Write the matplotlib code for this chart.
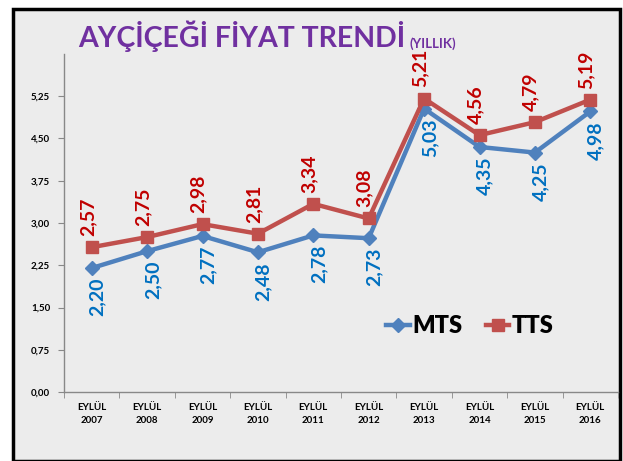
import matplotlib
matplotlib.use("Agg")
import matplotlib.pyplot as plt
from matplotlib.patches import Rectangle

categories = ["EYLÜL\n2007", "EYLÜL\n2008", "EYLÜL\n2009", "EYLÜL\n2010", "EYLÜL\n2011",
              "EYLÜL\n2012", "EYLÜL\n2013", "EYLÜL\n2014", "EYLÜL\n2015", "EYLÜL\n2016"]
mts = [2.20, 2.50, 2.77, 2.48, 2.78, 2.73, 5.03, 4.35, 4.25, 4.98]
tts = [2.57, 2.75, 2.98, 2.81, 3.34, 3.08, 5.21, 4.56, 4.79, 5.19]
yticks = [0.00, 0.75, 1.50, 2.25, 3.00, 3.75, 4.50, 5.25]

plt.rcParams['font.family'] = ['Lato', 'DejaVu Sans']

W, H = 623, 461
fig = plt.figure(figsize=(W / 100, H / 100), dpi=100)
fig.patch.set_facecolor('white')
bg = '#ececec'
fig.patches.append(Rectangle((13 / W, 0), 1 - 16 / W, 1 - 9 / H, transform=fig.transFigure,
                             facecolor=bg, edgecolor='black', linewidth=2.5, zorder=-10))

ax = fig.add_axes([64 / W, 1 - 392 / H, (618 - 64) / W, (392 - 54) / H])
ax.set_facecolor('none')
x = list(range(len(categories)))
ax.plot(x, mts, color='#4F81BD', linewidth=3.2, marker='D', markersize=7, label='MTS', zorder=3)
ax.plot(x, tts, color='#C0504D', linewidth=3.2, marker='s', markersize=9, label='TTS', zorder=3)

for i, v in enumerate(tts):
    ax.annotate(f"{v:.2f}".replace('.', ','), (i, v), xytext=(-3, 8), textcoords='offset points',
                rotation=90, ha='center', va='bottom', color='#C00000', fontsize=14,
                fontweight='bold', zorder=4)
for i, v in enumerate(mts):
    ax.annotate(f"{v:.2f}".replace('.', ','), (i, v), xytext=(4, -7), textcoords='offset points',
                rotation=90, ha='center', va='top', color='#0070C0', fontsize=14,
                fontweight='bold', zorder=4)

ax.set_xlim(-0.5, len(categories) - 0.5)
ax.set_ylim(0, 6.0)
ax.set_yticks(yticks)
ax.set_yticklabels([f"{t:.2f}".replace('.', ',') for t in yticks], fontsize=7, fontweight='bold')
ax.set_xticks(x)
ax.set_xticklabels(categories, fontsize=7, fontweight='bold', linespacing=1.5)
ax.set_xticks([i + 0.5 for i in range(-1, len(categories))], minor=True)
ax.tick_params(axis='x', which='major', length=0, pad=8)
ax.tick_params(axis='x', which='minor', length=4, color='#888888', direction='out')
ax.tick_params(axis='y', length=4, color='#888888', direction='out', pad=6)
for s in ['top', 'right']:
    ax.spines[s].set_visible(False)
for s in ['left', 'bottom']:
    ax.spines[s].set_color('#888888')
    ax.spines[s].set_linewidth(1)

leg = ax.legend(loc='center left', bbox_to_anchor=(0.56, 0.195), ncol=2, frameon=False,
                prop={'family': 'Lato', 'weight': 'heavy', 'size': 17},
                handlelength=1.0, handletextpad=0.1, columnspacing=1.0, borderpad=0)

fig.text(78 / W, 1 - 36 / H, "AYÇİÇEĞİ FİYAT TRENDİ", color='#7030A0', fontsize=20.5,
         fontweight='bold', va='center', ha='left')
fig.text(409 / W, 1 - 44 / H, "(YILLIK)", color='#7030A0', fontsize=9.5,
         fontweight='bold', va='center', ha='left')

fig.savefig('out.png', dpi=100)
